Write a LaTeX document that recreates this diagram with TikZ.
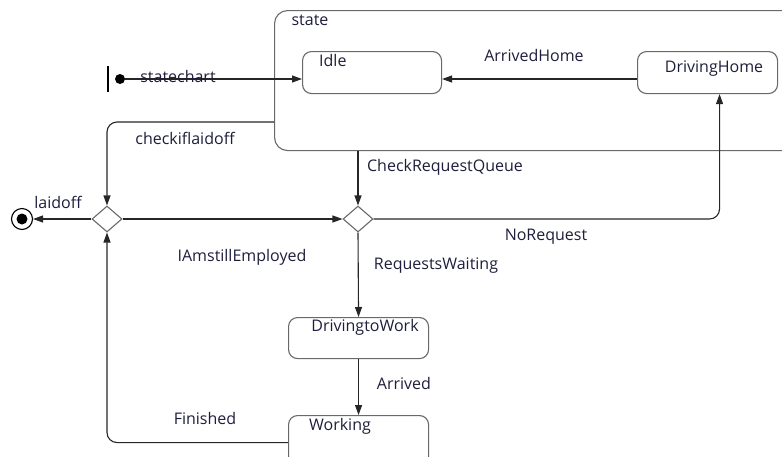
\documentclass[tikz,border=0pt]{standalone}
\usepackage{fontspec}
\setmainfont{Open Sans}
\usetikzlibrary{arrows.meta, shapes.geometric}
\definecolor{boxgray}{RGB}{105,105,105}
\definecolor{txtcol}{RGB}{30,30,60}

\tikzset{
  stbox/.style={draw=boxgray, line width=1.1pt, rounded corners=9pt, minimum width=140pt,
    minimum height=42pt, anchor=north west, inner sep=0pt},
  decide/.style={diamond, draw=boxgray, line width=1.1pt, minimum width=30pt, minimum height=26pt, inner sep=0pt},
  trans/.style={draw=black!85, line width=1.1pt, -{Triangle[length=10pt,width=7pt]}},
  lbl/.style={text=txtcol, font=\fontsize{16}{18}\selectfont, inner sep=0pt}
}

\begin{document}
\begin{tikzpicture}[x=1pt, y=-1pt]
\useasboundingbox (0,0) rectangle (782,456);
\clip (0,0) rectangle (782,456);

% composite state
\node[draw=boxgray, line width=1.1pt, rounded corners=13pt, anchor=north west, inner sep=0pt,
  minimum width=540pt, minimum height=140pt] (state) at (274,10) {};
\node[lbl] (statelbl) at (310,20) {state};

% states
\node[stbox, minimum width=139pt] (idle) at (302,51) {};
\node[lbl, anchor=north west] (idlelbl) at (319,54) {Idle};
\node[stbox] (dhome) at (637,51) {};
\node[lbl] (dhomelbl) at (714,69) {DrivingHome};
\node[stbox, minimum height=41pt] (dtw) at (288,317) {};
\node[lbl] (dtwlbl) at (365,327) {DrivingtoWork};
\node[stbox, minimum height=54pt] (work) at (288,415) {};
\node[lbl] (worklbl) at (340,426) {Working};

% pseudo states
\node[circle, fill=black, minimum size=10pt, inner sep=0pt] (init) at (120,79) {};
\draw[line width=2.4pt] (108,66) -- (108,92);
\node[circle, draw=black, line width=1.1pt, minimum size=21pt, inner sep=0pt,
  path picture={\fill (path picture bounding box.center) circle (5.5pt);}] (final) at (22,219) {};
\node[decide] (dec1) at (107,219) {};
\node[decide] (dec2) at (358,219) {};
\coordinate (chk) at (274,122);

% transitions
\draw[trans] (init) -- (init -| idle.west);
\draw[trans] (dhome.west |- init) -- (idle.east |- init);
\draw[trans, rounded corners=10pt] (chk) -| (dec1.north);
\draw[trans] (dec1.west) -- (final.east);
\draw[trans] (dec1.east) -- (dec2.west);
\draw[trans] (dec2 |- state.south) -- (dec2.north);
\draw[trans, rounded corners=10pt] (dec2.east) -| ([xshift=12pt]dhome.south);
\draw[trans] (dec2.south) -- (dtw.north);
\draw[trans] (dtw.south) -- (work.north);
\draw[trans, rounded corners=10pt] (work.west) -| (dec1.south);

% labels
\node[lbl] (l1) at (178,76) {statechart};
\node[lbl] (l2) at (534,55) {ArrivedHome};
\node[lbl] (l3) at (185,138) {checkiflaidoff};
\node[lbl] (l4) at (58,202) {laidoff};
\node[lbl] (l5) at (445,167) {CheckRequestQueue};
\node[lbl] (l6) at (242,257) {IAmstillEmployed};
\node[lbl] (l7) at (546,237) {NoRequest};
\node[lbl] (l8) at (436,266) {RequestsWaiting};
\node[lbl] (l9) at (404,383) {Arrived};
\node[lbl] (l10) at (205,418) {Finished};
\end{tikzpicture}
\end{document}
